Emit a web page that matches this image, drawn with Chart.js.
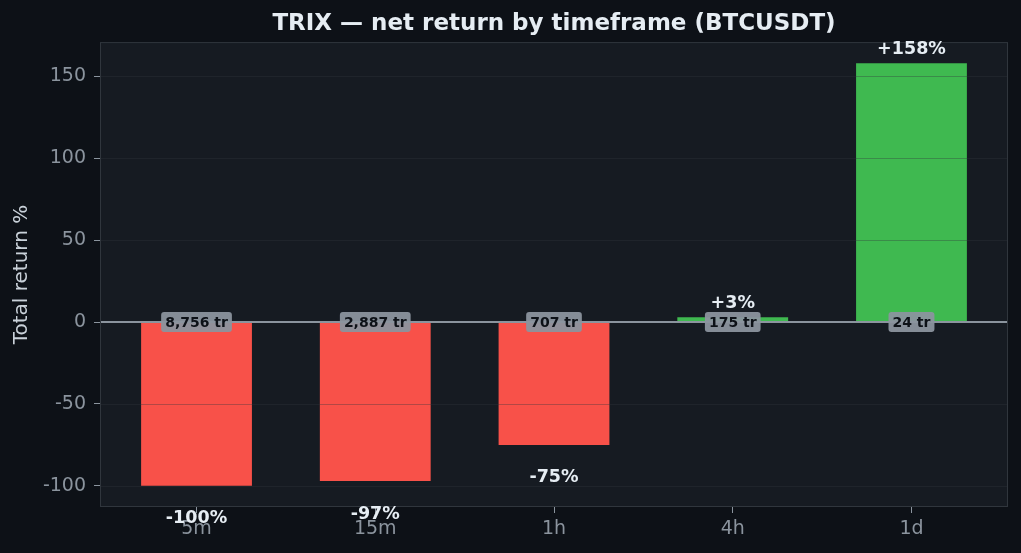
<!DOCTYPE html>
<html>
<head>
<meta charset="utf-8">
<script src="https://cdn.jsdelivr.net/npm/chart.js@4.4.1/dist/chart.umd.min.js"></script>
<style>
  html, body { margin: 0; padding: 0; background: #0d1117; }
  #wrap { width: 1021px; height: 553px; }
</style>
</head>
<body>
<div id="wrap"><canvas id="chart" width="1021" height="553"></canvas></div>
<script>
// chart data
const timeframes = ["5m", "15m", "1h", "4h", "1d"];
const netReturn = [-100, -97, -75, 3, 158];
const tradeCounts = [8756, 2887, 707, 175, 24];
const yTicks = [-100, -50, 0, 50, 100, 150];

const RED = "#f85149";
const GREEN = "#3fb950";
const FONT = "'DejaVu Sans', sans-serif";

// plot panel background + frame
const panelPlugin = {
  id: "panel",
  beforeDraw(chart) {
    const {ctx, chartArea: a} = chart;
    ctx.save();
    ctx.fillStyle = "#161b22";
    ctx.fillRect(a.left, a.top, a.right - a.left, a.bottom - a.top);
    ctx.restore();
  },
  afterDatasetsDraw(chart) {
    const {ctx, chartArea: a, scales} = chart;
    const y = scales.y;
    ctx.save();
    // grid lines sit on top of the bars, like the original
    ctx.strokeStyle = "rgba(48,54,61,0.35)";
    ctx.lineWidth = 1;
    yTicks.forEach(v => {
      if (v === 0) return;
      const py = Math.round(y.getPixelForValue(v)) + 0.5;
      ctx.beginPath();
      ctx.moveTo(a.left, py);
      ctx.lineTo(a.right, py);
      ctx.stroke();
    });
    // zero line
    const zy = y.getPixelForValue(0);
    ctx.strokeStyle = "#8b949e";
    ctx.lineWidth = 2;
    ctx.beginPath();
    ctx.moveTo(a.left, zy);
    ctx.lineTo(a.right, zy);
    ctx.stroke();
    // frame
    ctx.strokeStyle = "#30363d";
    ctx.lineWidth = 1;
    ctx.strokeRect(a.left + 0.5, a.top + 0.5, a.right - a.left - 1, a.bottom - a.top - 1);
    ctx.restore();
  },
  afterDraw(chart) {
    const {ctx, scales} = chart;
    const x = scales.x, y = scales.y;
    ctx.save();
    // trade count badges on the zero line
    ctx.font = "bold 14px " + FONT;
    ctx.textAlign = "center";
    ctx.textBaseline = "middle";
    tradeCounts.forEach((n, i) => {
      const txt = n.toLocaleString("en-US") + " tr";
      const px = x.getPixelForValue(i);
      const py = y.getPixelForValue(0);
      const w = ctx.measureText(txt).width + 8;
      const h = 20;
      ctx.fillStyle = "rgba(139,148,158,0.95)";
      ctx.beginPath();
      ctx.roundRect(px - w / 2, py - h / 2, w, h, 3);
      ctx.fill();
      ctx.fillStyle = "#0d1117";
      ctx.fillText(txt, px, py + 1);
    });
    // return labels past the bar ends
    ctx.font = "bold 17.5px " + FONT;
    ctx.fillStyle = "#e6edf3";
    netReturn.forEach((v, i) => {
      const px = x.getPixelForValue(i);
      const end = y.getPixelForValue(v);
      const txt = (v > 0 ? "+" : "") + v + "%";
      const py = v >= 0 ? end - 14 : end + 33;
      ctx.fillText(txt, px, py);
    });
    ctx.restore();
  }
};

new Chart(document.getElementById("chart"), {
  type: "bar",
  data: {
    datasets: [{
      data: netReturn.map((v, i) => ({x: i, y: v})),
      backgroundColor: netReturn.map(v => v >= 0 ? GREEN : RED),
      borderWidth: 0,
      barPercentage: 0.62,
      categoryPercentage: 1
    }]
  },
  options: {
    responsive: false,
    devicePixelRatio: 1,
    animation: false,
    layout: {padding: {left: 0, right: 13, top: 0, bottom: 0}},
    plugins: {
      legend: {display: false},
      tooltip: {enabled: false},
      title: {
        display: true,
        fullSize: false,
        text: "TRIX \u2014 net return by timeframe (BTCUSDT)",
        color: "#e6edf3",
        font: {family: FONT, size: 23, weight: "bold"},
        padding: {top: 10, bottom: 4.5}
      }
    },
    scales: {
      x: {
        type: "linear",
        offset: false,
        min: -0.54,
        max: 4.54,
        afterBuildTicks: s => { s.ticks = timeframes.map((t, i) => ({value: i})); },
        afterFit: s => { s.height = 46; },
        ticks: {
          color: "#8b949e",
          font: {family: FONT, size: 19},
          padding: 5,
          callback: v => timeframes[v]
        },
        grid: {display: true, offset: false, drawOnChartArea: false, drawTicks: true, tickLength: 6, color: "#8b949e"},
        border: {display: false}
      },
      y: {
        min: -112.9,
        max: 170.9,
        afterBuildTicks: s => { s.ticks = yTicks.map(v => ({value: v})); },
        afterFit: s => { s.width = 100; },
        ticks: {
          color: "#8b949e",
          font: {family: FONT, size: 19},
          padding: 8
        },
        grid: {display: true, drawOnChartArea: false, drawTicks: true, tickLength: 6, color: "#8b949e"},
        border: {display: false},
        title: {
          display: true,
          text: "Total return %",
          color: "#c9d1d9",
          font: {family: FONT, size: 20},
          padding: {top: 10, bottom: 0}
        }
      }
    }
  },
  plugins: [panelPlugin]
});
</script>
</body>
</html>
